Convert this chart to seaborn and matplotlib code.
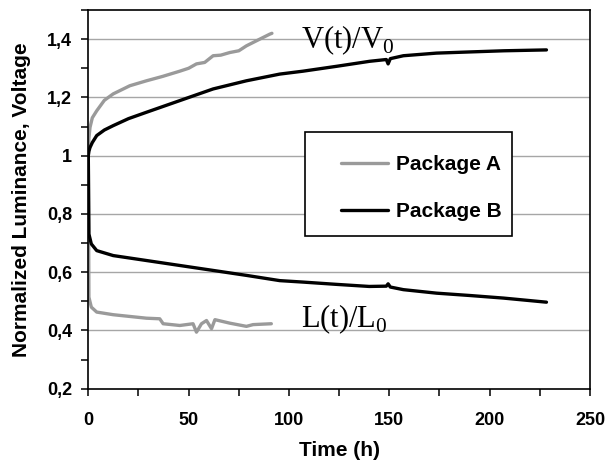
import pandas as pd
import matplotlib
matplotlib.use("Agg")
import matplotlib.pyplot as plt
import seaborn as sns
from matplotlib.ticker import AutoMinorLocator, FuncFormatter
from matplotlib.patches import Rectangle

# Package A (gray)
a_v_time = [0, 0.3, 0.85, 2, 4.2, 8, 12.4, 20.7, 29, 37, 45.6, 50, 53.9, 58, 62.2, 66, 70.5, 75, 78.8, 84, 90.4, 91.5]
a_v_val = [1.0, 1.06, 1.097, 1.13, 1.154, 1.19, 1.212, 1.24, 1.257, 1.272, 1.29, 1.30, 1.315, 1.32, 1.343, 1.345, 1.354, 1.36, 1.377, 1.395, 1.417, 1.42]
a_l_time = [0, 0.3, 1.5, 4.2, 12.4, 20.7, 29, 35.6, 37.3, 45.6, 52.2, 53.9, 56.4, 58.9, 61.4, 63.1, 70.5, 78.8, 82.1, 91.2]
a_l_val = [1.0, 0.514, 0.48, 0.463, 0.454, 0.448, 0.442, 0.44, 0.423, 0.417, 0.423, 0.394, 0.423, 0.434, 0.406, 0.437, 0.425, 0.414, 0.42, 0.423]

# Package B (black)
b_v_time = [0, 0.3, 0.85, 2, 4.2, 8, 12.4, 20, 29, 45.6, 62.2, 78.8, 95.4, 107, 124, 140.3, 148.5, 149.4, 150.5, 157, 173.5, 190, 207, 228.3]
b_v_val = [1.0, 1.015, 1.028, 1.045, 1.069, 1.088, 1.103, 1.127, 1.149, 1.189, 1.229, 1.257, 1.28, 1.29, 1.307, 1.324, 1.33, 1.315, 1.333, 1.343, 1.352, 1.356, 1.36, 1.363]
b_l_time = [0, 0.3, 1.5, 4.2, 12.4, 29, 45.6, 62.2, 78.8, 95.4, 107, 124, 140, 148.5, 149.4, 150.5, 157, 173.5, 190, 207, 228.3]
b_l_val = [1.0, 0.731, 0.697, 0.674, 0.657, 0.64, 0.623, 0.606, 0.589, 0.571, 0.566, 0.558, 0.551, 0.552, 0.56, 0.549, 0.54, 0.528, 0.52, 0.511, 0.497]

packages = ["Package A", "Package B"]
y_ticks = [0.2, 0.4, 0.6, 0.8, 1.0, 1.2, 1.4]
x_ticks = [0, 50, 100, 150, 200, 250]

rows = []
for pkg, qty, ts, vs in [
    ("Package A", "V", a_v_time, a_v_val),
    ("Package A", "L", a_l_time, a_l_val),
    ("Package B", "V", b_v_time, b_v_val),
    ("Package B", "L", b_l_time, b_l_val),
]:
    for t, v in zip(ts, vs):
        rows.append({"time": t, "value": v, "package": pkg, "curve": pkg + qty})
df = pd.DataFrame(rows)

sns.set_style("white")
plt.rcParams["font.family"] = ["Liberation Sans", "DejaVu Sans"]
plt.rcParams["font.weight"] = "bold"
plt.rcParams["axes.labelweight"] = "bold"
plt.rcParams["text.color"] = "black"
plt.rcParams["axes.labelcolor"] = "black"
plt.rcParams["xtick.color"] = "black"
plt.rcParams["ytick.color"] = "black"

fig = plt.figure(figsize=(6.14, 4.66), dpi=100)
ax = fig.add_axes([88.3 / 614, 1 - 388.7 / 466, 501.7 / 614, 378.7 / 466])

for y in y_ticks[1:]:
    ax.axhline(y, color="#a6a6a6", lw=1, zorder=0)

sns.lineplot(data=df, x="time", y="value", hue="package", units="curve",
             estimator=None, hue_order=packages,
             palette={"Package A": "#9a9a9a", "Package B": "black"},
             lw=2.4, ax=ax, zorder=2)

ax.set_xlim(0, 250)
ax.set_ylim(0.2, 1.5)
ax.set_xticks(x_ticks)
ax.set_yticks(y_ticks)
ax.xaxis.set_minor_locator(AutoMinorLocator(2))
ax.yaxis.set_minor_locator(AutoMinorLocator(2))
ax.yaxis.set_major_formatter(FuncFormatter(lambda v, _: ("%g" % v).replace(".", ",")))
ax.tick_params(axis="both", which="both", direction="out", length=5, width=1.1,
               color="black", labelcolor="black", left=True, bottom=True, labelsize=13)
ax.tick_params(axis="x", which="major", pad=11.5)
ax.tick_params(axis="y", which="major", pad=6.5)
for s in ax.spines.values():
    s.set_color("black")
    s.set_linewidth(1.2)

ax.set_xlabel("Time (h)", fontsize=15, fontweight="bold", color="black", labelpad=9)
ax.set_ylabel("Normalized Luminance, Voltage", fontsize=15, fontweight="bold",
              color="black", labelpad=12)

ax.text(106, 1.368, r"V(t)/V$_\mathregular{0}$", family="Liberation Serif",
        fontweight="normal", fontsize=22, color="black", va="baseline", ha="left", zorder=3)
ax.text(106, 0.411, r"L(t)/L$_\mathregular{0}$", family="Liberation Serif",
        fontweight="normal", fontsize=22, color="black", va="baseline", ha="left", zorder=3)

# legend frame
ax.add_patch(Rectangle((0.432, 0.403), 0.412, 0.276, transform=ax.transAxes,
                       facecolor="white", edgecolor="black", lw=1.2, zorder=4))
leg = ax.legend(loc="upper left", bbox_to_anchor=(0.482, 0.645), frameon=False,
                borderpad=0, handlelength=2.3, handletextpad=0.35,
                labelspacing=1.35, prop={"size": 15, "weight": "bold"})
leg.set_zorder(5)
for line in leg.get_lines():
    line.set_linewidth(2.4)
for txt in leg.get_texts():
    txt.set_color("black")

fig.savefig("out.png", dpi=100)
